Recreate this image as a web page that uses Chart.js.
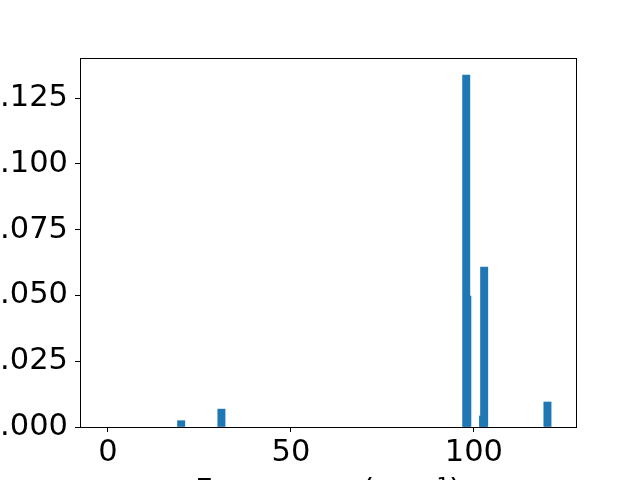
<!DOCTYPE html>
<html>
<head>
<meta charset="utf-8">
<script src="https://cdn.jsdelivr.net/npm/chart.js@4"></script>
<style>
  html, body { margin: 0; padding: 0; background: #fff; overflow: hidden; }
  #wrap { width: 640px; height: 480px; position: relative; }
</style>
</head>
<body>
<div id="wrap"><canvas id="c"></canvas></div>
<script>
// Data
const frequencies = [20.0, 31.0, 97.9, 98.2, 102.5, 102.8, 120.1];
const intensities = [0.0024, 0.0068, 0.1338, 0.0498, 0.0042, 0.0608, 0.0095];
const xTickValues = [0, 50, 100];
const yTickValues = [0, 0.025, 0.05, 0.075, 0.1, 0.125];
const xLabel = 'Frequency (cm\u207B\u00B9)';

const points = frequencies.map((f, i) => ({ x: f, y: intensities[i] }));
const fontSpec = { family: 'DejaVu Sans', size: 30.5 };

const framePlugin = {
  id: 'frame',
  afterDraw(chart) {
    const a = chart.chartArea, ctx = chart.ctx;
    ctx.save();
    ctx.strokeStyle = '#000';
    ctx.lineWidth = 1;
    ctx.strokeRect(Math.round(a.left) + 0.5, Math.round(a.top) + 0.5,
                   Math.round(a.right - a.left), Math.round(a.bottom - a.top));
    ctx.restore();
  }
};

new Chart(document.getElementById('c'), {
  type: 'bar',
  data: {
    datasets: [{
      data: points,
      backgroundColor: '#1f77b4',
      borderWidth: 0,
      barThickness: 7.3
    }]
  },
  options: {
    responsive: true,
    maintainAspectRatio: false,
    devicePixelRatio: 1,
    animation: false,
    layout: { padding: { top: 58, right: 64, left: 0, bottom: 0 } },
    plugins: { legend: { display: false }, tooltip: { enabled: false } },
    scales: {
      x: {
        type: 'linear',
        min: -7.65,
        max: 127.9,
        offset: false,
        grid: { offset: false, drawOnChartArea: false, drawTicks: true, tickLength: 5, color: '#000', lineWidth: 1 },
        border: { display: true, color: '#000', width: 1 },
        afterBuildTicks: s => { s.ticks = xTickValues.map(v => ({ value: v })); },
        afterFit: s => { s.height = 53; },
        ticks: { color: '#000', font: fontSpec, padding: 3, maxRotation: 0, autoSkip: false,
                 callback: v => String(v) },
        title: { display: true, text: xLabel, color: '#000', font: fontSpec,
                 padding: { top: 0, bottom: -30 } }
      },
      y: {
        type: 'linear',
        min: 0,
        max: 0.1403,
        grid: { drawOnChartArea: false, drawTicks: true, tickLength: 5, color: '#000', lineWidth: 1 },
        border: { display: true, color: '#000', width: 1 },
        afterBuildTicks: s => { s.ticks = yTickValues.map(v => ({ value: v })); },
        afterFit: s => { s.width = 80; },
        ticks: { color: '#000', font: fontSpec, padding: 7, autoSkip: false,
                 callback: v => Number(v).toFixed(3) }
      }
    }
  },
  plugins: [framePlugin]
});
</script>
</body>
</html>
